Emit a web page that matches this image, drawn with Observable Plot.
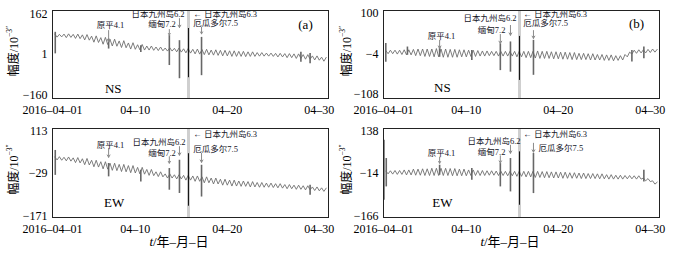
<!DOCTYPE html>
<html><head><meta charset="utf-8">
<script src="https://cdn.jsdelivr.net/npm/d3@7"></script>
<script src="https://cdn.jsdelivr.net/npm/@observablehq/plot@0.6"></script>
<style>
body{margin:0;background:#fff;}
#wrap{position:relative;width:685px;height:253px;overflow:hidden;}
#wrap svg{position:absolute;overflow:visible;}
</style></head><body><div id="wrap"></div>
<script>
// sampling of the traces: every 6 hours from 2016-04-01 06:00 (days since 04-01 00:00)
const START_DAY = 0.25, STEP_DAY = 0.25;
const xTickDays = [0, 9, 19, 29];
const xTickLabels = ["2016–04–01", "04–10", "04–20", "04–30"];

// (a) NS
const valuesA = [82,70,81,71, 82,68,83,69, 81,65,82,64, 79,59,80,58, 74,50,75,49, 68,42,69,41,
  61,35,62,34, 55,29,56,28, 47,23,48,22, 40,20,41,19, 35,19,35,18, 31,17,31,16, 27,15,28,15,
  26,12,27,11, 24,8,25,7, 22,4,23,3, 21,1,22,0, 19,-1,20,-2, 18,-4,18,-4, 16,-6,16,-6,
  14,-6,14,-7, 12,-6,12,-6, 9,-5,9,-5, 7,-5,7,-6, 6,-8,6,-8, 5,-11,5,-11, 4,-14,4,-14,
  1,-17,1,-17, -4,-20,-4,-21, -9,-25,-10];
// (b) NS
const valuesB = [4,-4,5,-4, 5,-5,5,-6, 6,-7,6,-7, 7,-9,8,-9, 8,-11,8,-11, 8,-12,9,-12,
  8,-13,8,-13, 7,-13,7,-13, 6,-12,6,-12, 5,-11,5,-11, 4,-10,3,-10, 3,-9,2,-9, 2,-10,2,-10,
  2,-10,2,-10, 2,-12,2,-12, 2,-14,2,-14, 2,-15,3,-16, 2,-16,2,-16, 1,-17,1,-17, 0,-18,0,-18,
  -1,-19,-1,-19, -3,-19,-3,-19, -4,-20,-4,-20, -6,-20,-6,-21, -7,-21,-7,-22, -9,-21,-9,-20,
  -6,-12,0,-5, 5,-3,6,-2, 6,-2,7,-1, 8,0,7];
// (c) EW
const valuesC = [27,17,28,16, 26,14,27,13, 24,8,25,7, 21,1,22,0, 16,-6,16,-7, 11,-13,11,-14,
  6,-18,6,-19, 2,-22,2,-23, -2,-26,-2,-27, -8,-30,-8,-31, -15,-35,-15,-36, -23,-39,-23,-40,
  -30,-44,-30,-44, -33,-47,-33,-47, -35,-51,-35,-51, -37,-55,-37,-55, -40,-60,-40,-60,
  -44,-64,-44,-64, -48,-68,-48,-68, -51,-71,-51,-71, -54,-72,-54,-72, -56,-74,-56,-74,
  -59,-75,-59,-75, -61,-75,-61,-76, -63,-77,-63,-78, -66,-80,-66,-80, -68,-82,-68,-82,
  -70,-84,-70,-84, -74,-86,-74,-87, -77,-89,-78];
// (d) EW
const valuesD = [-5,-15,-4,-16, -3,-17,-3,-17, -1,-19,-1,-19, 2,-20,2,-20, 3,-21,3,-21, 5,-21,5,-21,
  5,-21,5,-21, 4,-22,4,-22, 2,-22,2,-22, -1,-21,-1,-21, -3,-21,-3,-21, -4,-20,-4,-20, -5,-21,-5,-21,
  -6,-22,-6,-22, -6,-24,-6,-24, -6,-26,-6,-26, -6,-28,-6,-28, -7,-29,-7,-29, -8,-30,-8,-30,
  -9,-31,-9,-31, -11,-31,-11,-31, -12,-32,-12,-32, -14,-32,-14,-32, -15,-33,-15,-33,
  -18,-34,-18,-34, -20,-34,-20,-34, -21,-33,-21,-33, -22,-34,-22,-34, -30,-40,-32,-43, -40,-52,-45];

// spikes (day, low, high)
const spikeDaysA = [0.3, 6.1, 9.6, 12.7, 13.8, 16.2, 27, 28];
const spikeLoA = [4, 23, 9, -42, -94, -82, -29, -35];
const spikeHiA = [89, 63, 36, 76, 56, 69, 10, 5];
const spikeDaysB = [0.25, 2.6, 6.1, 9.6, 12.7, 13.8, 16.3, 27, 28.3];
const spikeLoB = [-26, -8, -13, -21, -47, -51, -59, -25, -17];
const spikeHiB = [22, 13, 13, 4, 21, 26, 30, 4, 13];
const spikeDaysC = [0.3, 6.1, 9.6, 12.7, 13.8, 16.2, 28];
const spikeLoC = [-35, -40, -57, -85, -96, -108, -102];
const spikeHiC = [49, 5, -18, -12, 16, -1, -68];
const spikeDaysD = [0.05, 0.3, 6.1, 9.6, 12.7, 13.8, 16.3, 28.3];
const spikeLoD = [-110, -62, -20, -38, -62, -80, -86, -44];
const spikeHiD = [106, 40, 16, 4, 22, 40, 58, -2];
// Kyushu M6.3 main event (day, low, high of dark part)
const bigDay = 14.78;
const bigLo = {a: -90, b: -72, c: -139, d: -128};
const bigHi = {a: 104, b: 40, c: 38, d: 64};

// annotation texts
const eqNames = ["原平4.1", "日本九州岛6.2", "缅甸7.2", "← 日本九州岛6.3", "厄瓜多尔7.5"];
const eqAnchors = ["middle", "end", "end", "start", "start"];
const labelDaysA = [6.3, 14.35, 13.4, 15.3, 15.3], labelValsA = [115, 161, 120, 159, 123];
const labelDaysB = [6.3, 14.46, 13.26, 15.2, 15.2], labelValsB = [40, 86, 56, 96, 73];
const labelDaysC = [6.3, 14.46, 13.4, 15.3, 15.3], labelValsC = [66, 78, 40, 103, 53];
const labelDaysD = [6.3, 14.9, 13.26, 15.2, 16.85], labelValsD = [59, 103, 63, 128, 77];
const arrowDaysA = [6.1, 12.7, 13.8, 16.2], arrowTopA = [96, 100, 143, 109], arrowBotA = [52, 78, 108, 83];
const arrowDaysB = [6.1, 12.7, 13.8, 16.3], arrowTopB = [30, 45, 68, 55], arrowBotB = [10, 22, 43, 35];
const arrowDaysC = [6.1, 12.7, 13.8, 16.2], arrowTopC = [56, 28, 62, 39], arrowBotC = [26, 6, 33, 9];
const arrowDaysD = [6.1, 12.7, 13.8, 16.3], arrowTopD = [45, 50, 88, 95], arrowBotD = [23, 24, 59, 63];

const yTicksA = [-160, 1, 162], yTicksB = [-108, -4, 100], yTicksC = [-171, -29, 113], yTicksD = [-166, -14, 138];
const yDomainA = [-172, 175], yDomainB = [-118, 106], yDomainC = [-177, 123], yDomainD = [-172, 148];

const SERIF = "'Liberation Serif','Times New Roman',serif";
const CJK = "'Liberation Serif','Noto Sans CJK SC',serif";

function makePanel(cfg) {
  const trace = cfg.values.map((v, i) => ({t: START_DAY + STEP_DAY * i, v}));
  const spikes = cfg.spikeDays.map((d, i) => ({t: d, lo: cfg.spikeLo[i], hi: cfg.spikeHi[i]}));
  const labels = eqNames.map((s, i) => ({t: cfg.labelDays[i], v: cfg.labelVals[i], s, a: eqAnchors[i]}));
  const arrows = cfg.arrowDays.map((d, i) => ({t: d, y1: cfg.arrowTop[i], y2: cfg.arrowBot[i]}));
  const marks = [
    Plot.ruleX([bigDay], {stroke: "#cfcfcf", strokeWidth: 3}),
    Plot.line(trace, {x: "t", y: "v", stroke: "#6e6e6e", strokeWidth: 0.9}),
    Plot.ruleX(spikes, {x: "t", y1: "lo", y2: "hi", stroke: "#676767", strokeWidth: 1.6}),
    Plot.ruleX([{t: bigDay, lo: cfg.bigLo, hi: cfg.bigHi}], {x: "t", y1: "lo", y2: "hi", stroke: "#111", strokeWidth: 1}),
    Plot.arrow(arrows, {x1: "t", x2: "t", y1: "y1", y2: "y2", stroke: "#8a8a8a", strokeWidth: 1, headLength: 4}),
    ...["start", "middle", "end"].map(a => Plot.text(labels.filter(d => d.a === a), {
      x: "t", y: "v", text: "s", textAnchor: a, fontSize: 8.5, fill: "#15151f", fontFamily: CJK})),
    Plot.text(cfg.comp, {x: "t", y: "v", text: "s", fontSize: 13, fontFamily: SERIF, fill: "#000"}),
    Plot.frame({stroke: "#222", strokeWidth: 1})
  ];
  if (cfg.tag) marks.push(Plot.text(cfg.tag, {x: "t", y: "v", text: "s", fontSize: 13, fontFamily: SERIF, fill: "#000"}));
  const svg = Plot.plot({
    width: cfg.w, height: cfg.h,
    marginLeft: cfg.ml, marginRight: cfg.mr, marginTop: cfg.mt, marginBottom: cfg.mb,
    style: {fontFamily: SERIF, fontSize: "12px", color: "#000", background: "transparent"},
    x: {domain: [0, 30], ticks: xTickDays, tickFormat: d => xTickLabels[xTickDays.indexOf(d)], tickSize: 0, tickPadding: 7, label: null},
    y: {domain: cfg.domain, ticks: cfg.yTicks, tickFormat: d => String(d).replace("-", "−"), tickSize: 0, tickPadding: 5, label: null},
    marks
  });
  svg.style.left = cfg.left + "px";
  svg.style.top = cfg.top + "px";
  const s = d3.select(svg);
  const cy = (cfg.mt + cfg.h - cfg.mb) / 2 - 3;
  const yl = s.append("text")
    .attr("transform", `translate(${cfg.ylx},${cy}) rotate(-90)`)
    .attr("text-anchor", "middle").attr("dominant-baseline", "middle")
    .attr("font-family", CJK).attr("font-size", 12).attr("fill", "#000");
  yl.append("tspan").text("幅度/10");
  yl.append("tspan").attr("font-size", 7.5).attr("dy", -5).text("−3″");
  if (cfg.xtitle) {
    const cx = (cfg.ml + cfg.w - cfg.mr) / 2 - 11;
    const xt = s.append("text").attr("x", cx).attr("y", cfg.h - 7)
      .attr("text-anchor", "middle").attr("font-family", CJK).attr("font-size", 13).attr("fill", "#000");
    xt.append("tspan").attr("font-style", "italic").text("t");
    xt.append("tspan").text("/年–月–日");
  }
  document.getElementById("wrap").appendChild(svg);
}

makePanel({left: 0, top: 0, w: 340, h: 118, ml: 52, mr: 12, mt: 10, mb: 20, ylx: 15,
  values: valuesA, spikeDays: spikeDaysA, spikeLo: spikeLoA, spikeHi: spikeHiA, bigLo: bigLo.a, bigHi: bigHi.a,
  labelDays: labelDaysA, labelVals: labelValsA, arrowDays: arrowDaysA, arrowTop: arrowTopA, arrowBot: arrowBotA,
  domain: yDomainA, yTicks: yTicksA, comp: [{t: 6.6, v: -133, s: "NS"}], tag: [{t: 27.5, v: 119, s: "(a)"}]});
makePanel({left: 340, top: 0, w: 345, h: 118, ml: 43, mr: 26, mt: 10, mb: 20, ylx: 8,
  values: valuesB, spikeDays: spikeDaysB, spikeLo: spikeLoB, spikeHi: spikeHiB, bigLo: bigLo.b, bigHi: bigHi.b,
  labelDays: labelDaysB, labelVals: labelValsB, arrowDays: arrowDaysB, arrowTop: arrowTopB, arrowBot: arrowBotB,
  domain: yDomainB, yTicks: yTicksB, comp: [{t: 6.4, v: -92, s: "NS"}], tag: [{t: 27.5, v: 73, s: "(b)"}]});
makePanel({left: 0, top: 118, w: 340, h: 135, ml: 52, mr: 12, mt: 10, mb: 36, ylx: 15, xtitle: true,
  values: valuesC, spikeDays: spikeDaysC, spikeLo: spikeLoC, spikeHi: spikeHiC, bigLo: bigLo.c, bigHi: bigHi.c,
  labelDays: labelDaysC, labelVals: labelValsC, arrowDays: arrowDaysC, arrowTop: arrowTopC, arrowBot: arrowBotC,
  domain: yDomainC, yTicks: yTicksC, comp: [{t: 6.7, v: -129, s: "EW"}]});
makePanel({left: 340, top: 118, w: 345, h: 135, ml: 43, mr: 26, mt: 10, mb: 36, ylx: 8, xtitle: true,
  values: valuesD, spikeDays: spikeDaysD, spikeLo: spikeLoD, spikeHi: spikeHiD, bigLo: bigLo.d, bigHi: bigHi.d,
  labelDays: labelDaysD, labelVals: labelValsD, arrowDays: arrowDaysD, arrowTop: arrowTopD, arrowBot: arrowBotD,
  domain: yDomainD, yTicks: yTicksD, comp: [{t: 6.4, v: -121, s: "EW"}]});
</script>
</body></html>
